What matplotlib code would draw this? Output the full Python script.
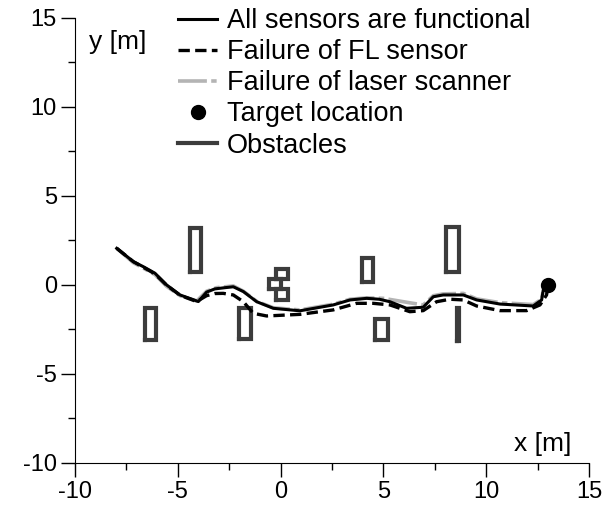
import numpy as np
import matplotlib
matplotlib.use("Agg")
import matplotlib.pyplot as plt
from matplotlib.ticker import MultipleLocator

plt.rcParams['font.family'] = ['Liberation Sans', 'DejaVu Sans']
plt.rcParams['axes.unicode_minus'] = False

# robot paths (x, y) in metres
all_ok_x = [-7.97, -7.16, -6.68, -6.11, -5.54, -4.89, -4.0, -3.6, -3.2, -2.7, -2.3, -1.81, -1.16,
            -0.35, 0.94, 2.56, 3.38, 4.19, 4.8, 5.32, 6.13, 6.94, 7.43, 7.91, 8.89, 9.54, 10.67,
            12.29, 12.7, 12.78, 13.0]
all_ok_y = [2.06, 1.31, 1.03, 0.66, 0.0, -0.56, -0.93, -0.4, -0.22, -0.15, -0.1, -0.37, -0.94,
            -1.31, -1.45, -1.12, -0.84, -0.75, -0.8, -0.94, -1.31, -1.25, -0.66, -0.56, -0.56, -0.84,
            -1.07, -1.18, -0.84, -0.28, 0.0]

fl_fail_x = [-7.97, -7.16, -6.68, -6.11, -5.54, -4.89, -4.08, -3.6, -3.2, -2.79, -2.3, -1.81, -1.33,
             -0.68, 0.94, 2.56, 3.7, 4.51, 5.32, 6.29, 6.94, 7.59, 8.24, 8.89, 9.54, 10.67, 11.97,
             12.62, 12.94, 13.0]
fl_fail_y = [2.06, 1.31, 1.0, 0.62, -0.02, -0.58, -0.93, -0.6, -0.48, -0.47, -0.56, -0.94, -1.59,
             -1.74, -1.65, -1.4, -1.03, -1.03, -1.12, -1.5, -1.44, -0.94, -0.8, -0.84, -1.18, -1.44,
             -1.44, -1.12, -0.56, -0.1]

laser_fail_x = [-7.97, -7.16, -6.68, -6.11, -5.54, -4.89, -4.08, -3.6, -3.11, -2.3, -1.81, -1.16,
                -0.35, 0.94, 2.56, 3.38, 4.19, 5.0, 6.29, 6.94, 7.43, 7.91, 8.89, 9.54, 10.67, 12.29,
                12.7, 12.78, 13.0]
laser_fail_y = [2.06, 1.25, 0.95, 0.58, -0.08, -0.6, -0.9, -0.35, -0.15, -0.05, -0.35, -0.92,
                -1.28, -1.4, -1.08, -0.8, -0.72, -0.75, -1.0, -1.12, -0.6, -0.5, -0.47, -0.78, -0.99,
                -1.1, -0.8, -0.25, 0.0]

target = (13.0, 0.0)

# obstacles as (x0, y0, x1, y1)
obstacles = [
    (-4.4, 0.75, -3.85, 3.2),
    (-6.6, -3.1, -6.05, -1.3),
    (-2.0, -3.05, -1.45, -1.3),
    (-0.2, 0.35, 0.35, 0.9),
    (-0.55, -0.2, 0.0, 0.35),
    (-0.2, -0.85, 0.35, -0.2),
    (3.95, 0.15, 4.5, 1.5),
    (4.6, -3.1, 5.25, -1.9),
    (8.05, 0.75, 8.7, 3.25),
    (8.6, -3.15, 8.7, -1.3),
]

fig = plt.figure(figsize=(6.16, 5.07), dpi=100)
ax = fig.add_axes([0.1218, 0.0868, 0.956 - 0.1218, 0.9645 - 0.0868])

obs_col = '#3c3c3c'
for i, (x0, y0, x1, y1) in enumerate(obstacles):
    ax.plot([x0, x1, x1, x0, x0], [y0, y0, y1, y1, y0], color=obs_col, lw=3,
            solid_joinstyle='miter', zorder=2, label='Obstacles' if i == 0 else None)

h_laser, = ax.plot(laser_fail_x, laser_fail_y, color='#b4b4b4', lw=2.6,
                   dashes=(8, 1.2, 1.5, 1.2), zorder=3, label='Failure of laser scanner')
h_ok, = ax.plot(all_ok_x, all_ok_y, color='black', lw=2.2, zorder=4,
                label='All sensors are functional')
h_fl, = ax.plot(fl_fail_x, fl_fail_y, color='black', lw=2.4, dashes=(3.4, 1.6), zorder=5,
                label='Failure of FL sensor')
h_tgt, = ax.plot([target[0]], [target[1]], 'o', color='black', ms=10, zorder=6,
                 linestyle='none', label='Target location')

h_obs = ax.lines[0]
ax.legend([h_ok, h_fl, h_laser, h_tgt, h_obs],
          ['All sensors are functional', 'Failure of FL sensor', 'Failure of laser scanner',
           'Target location', 'Obstacles'],
          loc='upper left', bbox_to_anchor=(178 / 616, 1 - 8 / 507), bbox_transform=fig.transFigure,
          frameon=False, fontsize=19.5, handlelength=1.45, handletextpad=0.35, labelspacing=0.19,
          borderpad=0, borderaxespad=0)

ax.text(-7.91, 13.65, 'y [m]', fontsize=19, ha='center', va='center')
ax.text(12.76, -8.93, 'x [m]', fontsize=19, ha='center', va='center')

ax.set_xlim(-10, 15)
ax.set_ylim(-10, 15)
ax.xaxis.set_major_locator(MultipleLocator(5))
ax.yaxis.set_major_locator(MultipleLocator(5))
ax.xaxis.set_minor_locator(MultipleLocator(2.5))
ax.yaxis.set_minor_locator(MultipleLocator(2.5))
ax.spines['top'].set_visible(False)
ax.spines['right'].set_visible(False)
ax.tick_params(which='major', direction='out', length=10, width=1, labelsize=17, pad=3)
ax.tick_params(which='minor', direction='out', length=5, width=1)

fig.savefig('out.png', dpi=100)
